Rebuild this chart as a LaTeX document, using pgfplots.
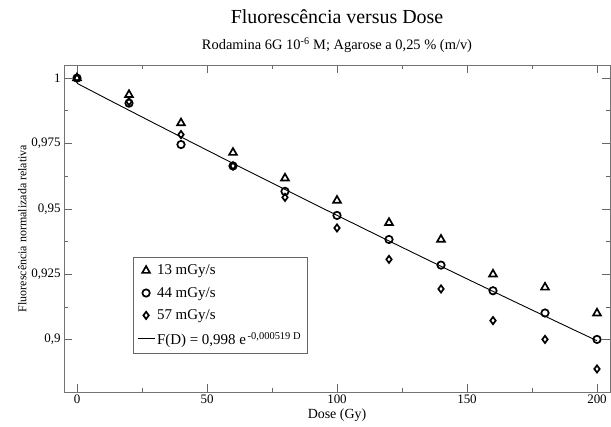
\documentclass[border=0pt]{standalone}
\usepackage{fontspec}
\setmainfont{Liberation Serif}
\usepackage{pgfplots}
\pgfplotsset{compat=1.18}
\begin{document}
\begin{tikzpicture}
\begin{axis}[
  scale only axis,
  width=546bp, height=327bp,
  xmin=-5, xmax=205,
  ymin=0.88, ymax=1.005,
  xtick={0,50,100,150,200},
  ytick={0.9,0.925,0.95,0.975,1},
  minor x tick num=1,
  minor y tick num=1,
  tick align=inside,
  major tick length=8bp,
  minor tick length=4bp,
  axis line style={black!55, line width=0.8pt},
  every tick/.style={black!60, line width=0.7pt},
  /pgf/number format/assume math mode=true,
  /pgf/number format/use comma,
  /pgf/number format/fixed,
  /pgf/number format/precision=3,
  ticklabel style={font=\fontsize{13}{15}\selectfont},
  xticklabel style={yshift=1bp},
  xlabel={Dose (Gy)},
  ylabel={Fluorescência normalizada relativa},
  xlabel style={font=\fontsize{14}{16}\selectfont, yshift=1bp},
  ylabel style={font=\fontsize{12}{14}\selectfont, yshift=-2bp},
  legend style={at={(0.126,0.116)}, anchor=south west, draw=black!60, line width=0.7pt,
    font=\fontsize{15}{17}\selectfont, row sep=7bp, inner xsep=4bp, inner ysep=6bp, cells={anchor=west}},
  legend cell align=left,
]
\addplot[only marks, mark=triangle, mark size=4.5bp, mark options={line width=1.7pt, black}]
coordinates {(0,1.000) (20,0.9936) (40,0.9828) (60,0.9715) (80,0.9617) (100,0.9532)
(120,0.9447) (140,0.9383) (160,0.9250) (180,0.9200) (200,0.9101)};
\addlegendentry{13 mGy/s}
\addplot[only marks, mark=o, mark size=3.7bp, mark options={line width=1.7pt, black}]
coordinates {(0,1.000) (20,0.9904) (40,0.9746) (60,0.9664) (80,0.9567) (100,0.9475)
(120,0.9383) (140,0.9285) (160,0.9187) (180,0.9102) (200,0.9001)};
\addlegendentry{44 mGy/s}
\addplot[only marks, mark=diamond, mark size=3.6bp, mark options={line width=1.7pt, black}]
coordinates {(0,1.000) (20,0.9910) (40,0.9784) (60,0.9664) (80,0.9544) (100,0.9427)
(120,0.9307) (140,0.9194) (160,0.9073) (180,0.9001) (200,0.8888)};
\addlegendentry{57 mGy/s}
\addplot[black, line width=0.9pt, mark=none]
coordinates {(0,0.99800) (10,0.99283) (20,0.98769) (30,0.98258) (40,0.97750) (50,0.97244)
(60,0.96740) (70,0.96239) (80,0.95741) (90,0.95246) (100,0.94753) (110,0.94262)
(120,0.93774) (130,0.93289) (140,0.92806) (150,0.92325) (160,0.91847) (170,0.91372)
(180,0.90899) (190,0.90428) (200,0.89960)};
\addlegendentry{F(D) = 0,998 e\textsuperscript{\,-0,000519 D}}
\end{axis}
\node[font=\fontsize{20}{22}\selectfont, anchor=center, yshift=48bp] at (current axis.north) {Fluorescência versus Dose};
\node[font=\fontsize{14.5}{16}\selectfont, anchor=center, yshift=20bp] at (current axis.north) {Rodamina 6G 10\textsuperscript{-6} M; Agarose a 0,25 \% (m/v)};
\path (current axis.south west) ++(-64bp,-35bp) coordinate (bbA);
\path (current axis.north east) ++(1bp,65bp) coordinate (bbB);
\path (bbA) rectangle (bbB);
\end{tikzpicture}
\end{document}
